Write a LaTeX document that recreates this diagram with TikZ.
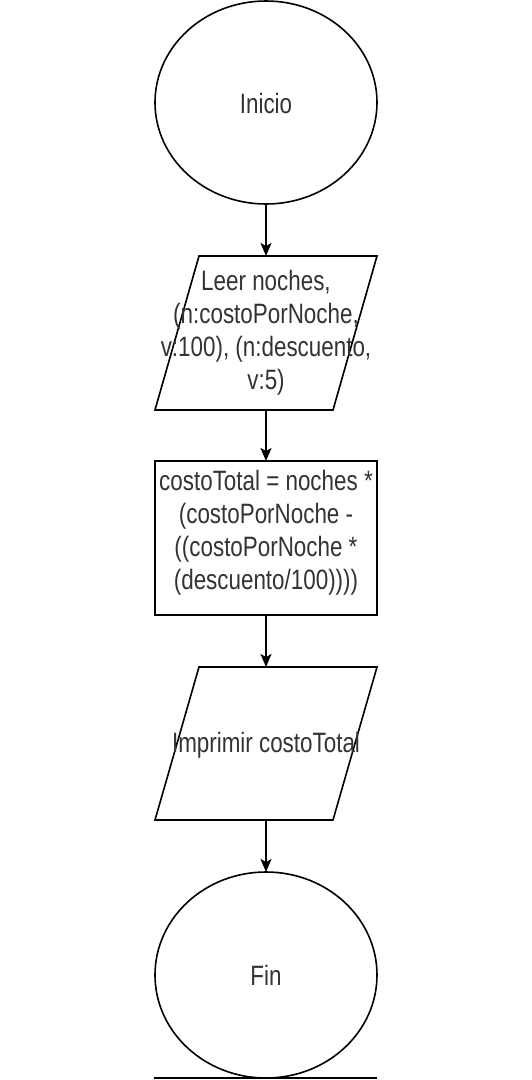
\documentclass[tikz,border=0pt]{standalone}
\usepackage{fontspec}
\newfontfamily\narfont[FakeStretch=0.8]{Liberation Sans}
\usetikzlibrary{arrows.meta}
\definecolor{txt}{HTML}{333333}
\tikzset{
  shapeline/.style={draw=black, line width=1.6pt},
  flowarrow/.style={draw=black, line width=1.6pt, -{Stealth[length=13pt,width=11pt,inset=3pt]}},
  label/.style={text=txt, font=\narfont\fontsize{28}{33}\selectfont, align=center, inner sep=0pt}
}
\begin{document}
\begin{tikzpicture}[x=1pt,y=-1pt]
\useasboundingbox (0,0) rectangle (531,1080);
\fill[white] (0,0) rectangle (531,1080);
% Inicio
\draw[shapeline] (266,102.5) ellipse [x radius=111, y radius=101.5];
\node[label] (inicio) at (266,103) {Inicio};
\coordinate (inicioB) at (266,204);
% Leer
\draw[shapeline] (199,256) -- (377,256) -- (333,410) -- (155,410) -- cycle;
\node[label] (leer) at (266,333) {Leer noches,\\(n:costoPorNoche,\\v:100), (n:descuento,\\v:5)};
\coordinate (leerT) at (266,256);
\coordinate (leerB) at (266,410);
% Proceso
\draw[shapeline] (155,461) rectangle (377,615);
\node[label] (proc) at (266,533) {costoTotal = noches *\\(costoPorNoche -\\((costoPorNoche *\\(descuento/100))))};
\coordinate (procT) at (266,461);
\coordinate (procB) at (266,615);
% Imprimir
\draw[shapeline] (199,667) -- (377,667) -- (333,820) -- (155,820) -- cycle;
\node[label] (impr) at (266,745) {Imprimir costoTotal};
\coordinate (imprT) at (266,667);
\coordinate (imprB) at (266,820);
% Fin
\draw[shapeline] (266,975) ellipse [x radius=111, y radius=103];
\node[label] (fin) at (266,975) {Fin};
\coordinate (finT) at (266,872);
\coordinate (lineL) at (154,1078);
\coordinate (lineR) at (377,1078);
\draw[shapeline] (lineL) -- (lineR);
% arrows
\draw[flowarrow] (inicioB) -- (leerT);
\draw[flowarrow] (leerB) -- (procT);
\draw[flowarrow] (procB) -- (imprT);
\draw[flowarrow] (imprB) -- (finT);
\end{tikzpicture}
\end{document}
